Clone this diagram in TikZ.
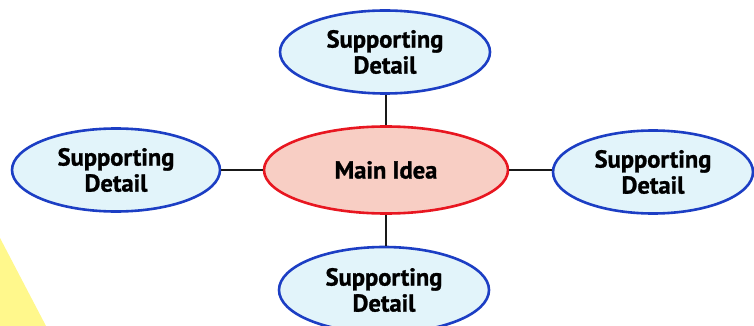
\documentclass[tikz,border=0pt]{standalone}
\usepackage{fontspec}
\setmainfont{PT Sans}
\newfontfamily\heavyfont[FakeBold=1.2]{PT Sans Bold}
\usetikzlibrary{shapes.geometric}
\definecolor{detailfill}{RGB}{226,244,250}
\definecolor{detailline}{RGB}{28,62,196}
\definecolor{ideafill}{RGB}{248,206,196}
\definecolor{idealine}{RGB}{232,22,32}
\definecolor{pageyellow}{RGB}{255,248,140}
\tikzset{
  bubble/.style={ellipse, draw, line width=2.6pt, inner sep=0pt, align=center,
    font=\fontsize{24.5}{26}\selectfont\heavyfont},
  detail/.style={bubble, fill=detailfill, draw=detailline, minimum height=83pt},
  idea/.style={bubble, fill=ideafill, draw=idealine, minimum width=244pt, minimum height=87pt},
  link/.style={line width=2pt, black!90}
}
\begin{document}
\begin{tikzpicture}[x=1pt,y=-1pt]
    \useasboundingbox (0,0) rectangle (754,326);
    \clip (0,0) rectangle (754,326);
    \fill[white] (0,0) rectangle (754,326);
    \fill[pageyellow] (0,238) -- (46,326) -- (0,326) -- cycle;
    \node[idea] (main) at (386,170) {Main Idea};
    \node[detail, minimum width=210pt] (top) at (385,52) {Supporting\\Detail};
    \node[detail, minimum width=208pt] (left) at (116,170) {Supporting\\Detail};
    \node[detail, minimum width=200pt] (right) at (653,172) {Supporting\\Detail};
    \node[detail, minimum width=210pt, minimum height=86pt] (bottom) at (384,290) {Supporting\\Detail};
    \draw[link] (main.north) -- (main.north |- top.south);
    \draw[link] (main.south) -- (main.south |- bottom.north);
    \draw[link] (left.east) -- (left.east -| main.west);
    \draw[link] (main.east) -- (main.east -| right.west);
\end{tikzpicture}
\end{document}
